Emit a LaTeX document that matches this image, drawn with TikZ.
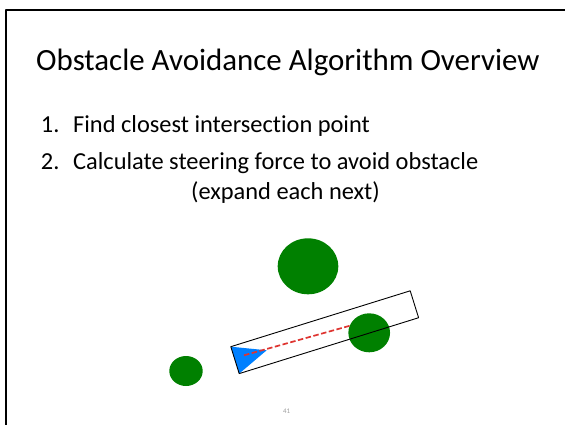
\documentclass[tikz,border=0pt]{standalone}
\usepackage{fontspec}
\setmainfont{Carlito}[Ligatures=NoCommon]
\usetikzlibrary{calc, positioning, shapes.geometric}

\definecolor{obstgreen}{RGB}{0,128,0}
\definecolor{agentblue}{RGB}{0,128,255}
\definecolor{probered}{RGB}{222,52,48}

\tikzset{
	txt/.style={inner sep=0pt, anchor=base west, font=\fontsize{24.4}{29}\selectfont},
	obstacle/.style={ellipse, fill=obstgreen, inner sep=0pt},
	probe/.style={draw=probered, line width=1.7pt, dash pattern=on 5.5pt off 2.5pt, line cap=butt},
}

\begin{document}
\begin{tikzpicture}[x=1pt, y=-1pt, line cap=round, line join=round]

\useasboundingbox (0,0) rectangle (565,424);

% slide frame
\draw[line width=2pt] (6,440) -- (6,10) -- (580,10);

\node[txt, font=\fontsize{30.9}{37}\selectfont] (title) at (36,70) {Obstacle Avoidance Algorithm Overview};

\node[txt] (num1) at (40.7,132.7) {1.};
\node[txt] (item1) at (73,132.7) {Find closest intersection point};
\node[txt] (num2) at (40.7,169) {2.};
\node[txt] (item2) at (73,169) {Calculate steering force to avoid obstacle};
\node[txt, anchor=base] (note) at (285.5,199) {(expand each next)};


\begin{scope}
	\node[obstacle, minimum width=60.6, minimum height=56] (obsA) at (308,266.3) {};
	\node[obstacle, minimum width=41.7, minimum height=39] (obsB) at (369.2,332.8) {};
	\node[obstacle, minimum width=33.4, minimum height=30] (obsC) at (186,371) {};

	\node[minimum width=187.5, minimum height=27.8, inner sep=0pt, rotate=17.3] (box) at (324.7,332.2) {};

	\coordinate (tip) at ($(box.west)!33.2pt!(box.east)$);
	\fill[agentblue] (box.north west) -- (tip) -- (box.south west) -- cycle;

	\coordinate (agent) at (244,355.3);
	\coordinate (hit) at (350,325.7);
	\draw[probe] (agent) -- (hit);

	\draw[line width=0.9pt] (box.north west) -- (box.north east) -- (box.south east) -- (box.south west) -- cycle;
\end{scope}

\node[font=\fontsize{7}{8}\selectfont, text=black!38] (pagenum) at (286.7,411) {41};

\end{tikzpicture}
\end{document}
